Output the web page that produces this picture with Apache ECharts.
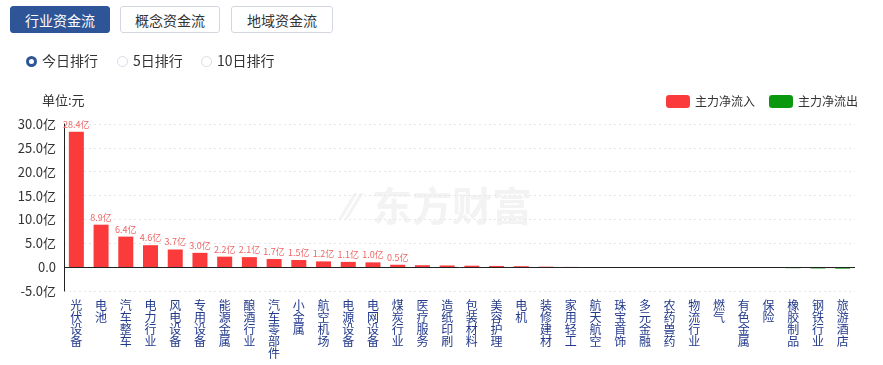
<!DOCTYPE html>
<html><head><meta charset="utf-8">
<script src="https://cdn.jsdelivr.net/npm/echarts@6/dist/echarts.min.js"></script>
<style>
html,body{margin:0;padding:0;background:#fff;font-family:"Noto Sans CJK SC","Noto Sans",sans-serif;}
#chart{position:absolute;left:0;top:0;width:883px;height:365px;}
.btn{position:absolute;top:6px;height:27px;line-height:27px;width:100px;text-align:center;font-size:14px;border:1px solid #d3d8e0;border-radius:3px;color:#333;background:#fff;box-sizing:border-box;z-index:2;}
.btn.on{background:#2d5597;color:#fff;border-color:#2d5597;}
.radio{position:absolute;top:51px;font-size:14px;color:#333;z-index:2;line-height:18px;}
.radio i{display:inline-block;width:11px;height:11px;border-radius:50%;border:1px solid #d5dbe5;vertical-align:-1px;margin-right:5px;box-sizing:border-box;}
.radio i.on{border:3.5px solid #2d5597;}
</style></head>
<body>
<div id="chart"></div>
<div class="btn on" style="left:10px;">行业资金流</div>
<div class="btn" style="left:120px;">概念资金流</div>
<div class="btn" style="left:231px;width:102px;">地域资金流</div>
<div class="radio" style="left:26px;"><i class="on"></i>今日排行</div>
<div class="radio" style="left:117px;"><i></i>5日排行</div>
<div class="radio" style="left:201px;"><i></i>10日排行</div>
<script>
const categories = ["光伏设备","电池","汽车整车","电力行业","风电设备","专用设备","能源金属","酿酒行业","汽车零部件","小金属","航空机场","电源设备","电网设备","煤炭行业","医疗服务","造纸印刷","包装材料","美容护理","电机","装修建材","家用轻工","航天航空","珠宝首饰","多元金融","农药兽药","物流行业","燃气","有色金属","保险","橡胶制品","钢铁行业","旅游酒店"];
const values = [28.4,8.9,6.4,4.6,3.7,3.0,2.2,2.1,1.7,1.5,1.2,1.1,1.0,0.5,0.4,0.35,0.3,0.25,0.2,0.1,0.05,0.02,0.01,-0.02,-0.03,-0.04,-0.06,-0.08,-0.1,-0.22,-0.28,-0.32];
const yTicks = [-5,0,5,10,15,20,25,30];
const legendNames = ["主力净流入","主力净流出"];

const inflow = values.map(v => v > 0 ? v : '-');
const outflow = values.map(v => v < 0 ? v : '-');

const chart = echarts.init(document.getElementById('chart'));
chart.setOption({
  animation:false,
  textStyle:{fontFamily:'"Noto Sans CJK SC","Noto Sans",sans-serif'},
  title:{text:'单位:元',left:37,top:89,textStyle:{fontSize:13,fontWeight:'normal',color:'#333'}},
  legend:{right:20,top:90,itemWidth:24,itemHeight:13,itemGap:14,textStyle:{fontSize:12,color:'#333'},data:legendNames},
  graphic:[
    {type:'text',left:345,top:191,style:{text:'⁄⁄',fontSize:36,fontWeight:'bold',fill:'#f3f3f3'},z:-1},
    {type:'text',left:372,top:186,style:{text:'东方财富',fontSize:40,fontWeight:'bold',fill:'#f3f3f3',fontFamily:'"Noto Sans CJK SC"'},z:-1}
  ],
  grid:{left:64,right:28,top:124,bottom:74},
  xAxis:{type:'category',data:categories,
    axisLine:{show:false,onZero:false},axisTick:{show:false},
    axisLabel:{interval:0,margin:8,fontSize:12,lineHeight:12,color:'#22398c',
      formatter:v=>v.split('').join('\n'),verticalAlign:'top'}},
  yAxis:{type:'value',min:yTicks[0],max:yTicks[yTicks.length-1],interval:5,
    axisLine:{show:true,lineStyle:{color:'#222'}},axisTick:{show:false},
    axisLabel:{fontSize:13,color:'#333',margin:8,formatter:v=>v===0?'0.0':v.toFixed(1)+'亿'},
    splitLine:{show:true,lineStyle:{color:'#e3e6ea',type:[2,3]}}},
  series:[
    {name:legendNames[0],type:'bar',stack:'a',data:inflow,barWidth:15,itemStyle:{color:'#fb3b3b'},
      label:{show:true,position:'top',fontSize:9,color:'#ef6565',distance:3,
        formatter:p=>(typeof p.value==='number'&&p.value>=0.5)?p.value.toFixed(1)+'亿':''},
      markLine:{silent:true,symbol:'none',label:{show:false},lineStyle:{color:'#222',type:'solid',width:1},data:[{yAxis:0}]}},
    {name:legendNames[1],type:'bar',stack:'a',data:outflow,barWidth:15,itemStyle:{color:'#0a980f'}}
  ]
});
</script>
</body></html>
